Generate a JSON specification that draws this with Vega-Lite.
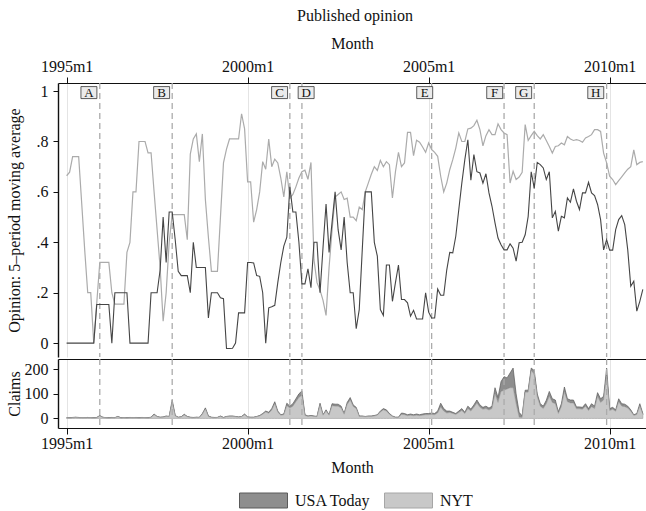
{
"$schema":"https://vega.github.io/schema/vega-lite/v6.json",
"background":"white",
"padding":{"left":6,"top":8,"right":0,"bottom":0},
"config":{"font":"Liberation Serif","view":{"stroke":null},
 "axis":{"labelFontSize":16,"titleFontSize":16,"titleFontWeight":"normal","labelColor":"#111","titleColor":"#111","domainColor":"#111","tickColor":"#111","grid":false,"labelFont":"Liberation Serif","titleFont":"Liberation Serif"},
 "legend":{"labelFont":"Liberation Serif","labelFontSize":16,"labelColor":"#111"}},
"title":{"text":"Published opinion","anchor":"middle","fontSize":16,"fontWeight":"normal","font":"Liberation Serif","color":"#111","dx":29,"offset":11},
"spacing":0,
"datasets":{
"events":[{"tm":431,"label_tm":427.4,"event":"A"},{"tm":455,"label_tm":451.5,"event":"B"},{"tm":494,"label_tm":490.6,"event":"C"},{"tm":498,"label_tm":499.4,"event":"D"},{"tm":541,"label_tm":538.7,"event":"E"},{"tm":565,"label_tm":561.9,"event":"F"},{"tm":575,"label_tm":571.5,"event":"G"},{"tm":599,"label_tm":595.4,"event":"H"}],
"series":[
{"tm":420,"usa_op":0,"nyt_op":0.664,"usa_cl":0,"nyt_cl":3},
{"tm":421,"usa_op":0,"nyt_op":0.678,"usa_cl":1,"nyt_cl":2},
{"tm":422,"usa_op":0,"nyt_op":0.74,"usa_cl":1,"nyt_cl":3},
{"tm":423,"usa_op":0,"nyt_op":0.74,"usa_cl":1,"nyt_cl":4},
{"tm":424,"usa_op":0,"nyt_op":0.74,"usa_cl":1,"nyt_cl":3},
{"tm":425,"usa_op":0,"nyt_op":0.556,"usa_cl":0,"nyt_cl":3},
{"tm":426,"usa_op":0,"nyt_op":0.37,"usa_cl":0,"nyt_cl":3},
{"tm":427,"usa_op":0,"nyt_op":0.2,"usa_cl":1,"nyt_cl":3},
{"tm":428,"usa_op":0,"nyt_op":0.2,"usa_cl":0,"nyt_cl":3},
{"tm":429,"usa_op":0,"nyt_op":0,"usa_cl":1,"nyt_cl":2},
{"tm":430,"usa_op":0.153,"nyt_op":0.16,"usa_cl":1,"nyt_cl":3},
{"tm":431,"usa_op":0.153,"nyt_op":0.32,"usa_cl":2,"nyt_cl":10},
{"tm":432,"usa_op":0.153,"nyt_op":0.32,"usa_cl":1,"nyt_cl":4},
{"tm":433,"usa_op":0.153,"nyt_op":0.32,"usa_cl":0,"nyt_cl":3},
{"tm":434,"usa_op":0.153,"nyt_op":0.32,"usa_cl":1,"nyt_cl":2},
{"tm":435,"usa_op":0,"nyt_op":0.2,"usa_cl":1,"nyt_cl":3},
{"tm":436,"usa_op":0.2,"nyt_op":0.155,"usa_cl":0,"nyt_cl":3},
{"tm":437,"usa_op":0.2,"nyt_op":0.155,"usa_cl":1,"nyt_cl":7},
{"tm":438,"usa_op":0.2,"nyt_op":0.155,"usa_cl":1,"nyt_cl":2},
{"tm":439,"usa_op":0.2,"nyt_op":0.155,"usa_cl":0,"nyt_cl":3},
{"tm":440,"usa_op":0.2,"nyt_op":0.36,"usa_cl":1,"nyt_cl":2},
{"tm":441,"usa_op":0,"nyt_op":0.4,"usa_cl":1,"nyt_cl":3},
{"tm":442,"usa_op":0,"nyt_op":0.6,"usa_cl":0,"nyt_cl":3},
{"tm":443,"usa_op":0,"nyt_op":0.6,"usa_cl":1,"nyt_cl":3},
{"tm":444,"usa_op":0,"nyt_op":0.8,"usa_cl":1,"nyt_cl":2},
{"tm":445,"usa_op":0,"nyt_op":0.8,"usa_cl":1,"nyt_cl":3},
{"tm":446,"usa_op":0,"nyt_op":0.8,"usa_cl":0,"nyt_cl":3},
{"tm":447,"usa_op":0,"nyt_op":0.755,"usa_cl":1,"nyt_cl":2},
{"tm":448,"usa_op":0.2,"nyt_op":0.755,"usa_cl":1,"nyt_cl":4},
{"tm":449,"usa_op":0.2,"nyt_op":0.6,"usa_cl":3,"nyt_cl":15},
{"tm":450,"usa_op":0.2,"nyt_op":0.45,"usa_cl":1,"nyt_cl":7},
{"tm":451,"usa_op":0.29,"nyt_op":0.3,"usa_cl":1,"nyt_cl":4},
{"tm":452,"usa_op":0.5,"nyt_op":0.087,"usa_cl":1,"nyt_cl":5},
{"tm":453,"usa_op":0.32,"nyt_op":0.2,"usa_cl":2,"nyt_cl":8},
{"tm":454,"usa_op":0.52,"nyt_op":0.4,"usa_cl":1,"nyt_cl":7},
{"tm":455,"usa_op":0.52,"nyt_op":0.51,"usa_cl":10,"nyt_cl":65},
{"tm":456,"usa_op":0.41,"nyt_op":0.51,"usa_cl":2,"nyt_cl":10},
{"tm":457,"usa_op":0.285,"nyt_op":0.51,"usa_cl":1,"nyt_cl":4},
{"tm":458,"usa_op":0.268,"nyt_op":0.51,"usa_cl":1,"nyt_cl":6},
{"tm":459,"usa_op":0.268,"nyt_op":0.51,"usa_cl":3,"nyt_cl":14},
{"tm":460,"usa_op":0.268,"nyt_op":0.41,"usa_cl":1,"nyt_cl":7},
{"tm":461,"usa_op":0.2,"nyt_op":0.75,"usa_cl":1,"nyt_cl":4},
{"tm":462,"usa_op":0.4,"nyt_op":0.81,"usa_cl":1,"nyt_cl":3},
{"tm":463,"usa_op":0.3,"nyt_op":0.83,"usa_cl":1,"nyt_cl":4},
{"tm":464,"usa_op":0.3,"nyt_op":0.72,"usa_cl":0,"nyt_cl":4},
{"tm":465,"usa_op":0.3,"nyt_op":0.83,"usa_cl":3,"nyt_cl":17},
{"tm":466,"usa_op":0.3,"nyt_op":0.57,"usa_cl":5,"nyt_cl":38},
{"tm":467,"usa_op":0.1,"nyt_op":0.42,"usa_cl":2,"nyt_cl":8},
{"tm":468,"usa_op":0.2,"nyt_op":0.285,"usa_cl":1,"nyt_cl":4},
{"tm":469,"usa_op":0.2,"nyt_op":0.285,"usa_cl":1,"nyt_cl":3},
{"tm":470,"usa_op":0.2,"nyt_op":0.285,"usa_cl":0,"nyt_cl":4},
{"tm":471,"usa_op":0.18,"nyt_op":0.5,"usa_cl":2,"nyt_cl":8},
{"tm":472,"usa_op":0.176,"nyt_op":0.715,"usa_cl":1,"nyt_cl":3},
{"tm":473,"usa_op":-0.021,"nyt_op":0.77,"usa_cl":1,"nyt_cl":7},
{"tm":474,"usa_op":-0.021,"nyt_op":0.81,"usa_cl":2,"nyt_cl":8},
{"tm":475,"usa_op":-0.02,"nyt_op":0.81,"usa_cl":2,"nyt_cl":8},
{"tm":476,"usa_op":0,"nyt_op":0.81,"usa_cl":1,"nyt_cl":7},
{"tm":477,"usa_op":0.12,"nyt_op":0.81,"usa_cl":1,"nyt_cl":5},
{"tm":478,"usa_op":0.12,"nyt_op":0.91,"usa_cl":1,"nyt_cl":7},
{"tm":479,"usa_op":0.12,"nyt_op":0.85,"usa_cl":3,"nyt_cl":15},
{"tm":480,"usa_op":0.32,"nyt_op":0.64,"usa_cl":1,"nyt_cl":5},
{"tm":481,"usa_op":0.32,"nyt_op":0.64,"usa_cl":1,"nyt_cl":4},
{"tm":482,"usa_op":0.318,"nyt_op":0.48,"usa_cl":1,"nyt_cl":4},
{"tm":483,"usa_op":0.268,"nyt_op":0.53,"usa_cl":1,"nyt_cl":7},
{"tm":484,"usa_op":0.265,"nyt_op":0.6,"usa_cl":2,"nyt_cl":10},
{"tm":485,"usa_op":0.2,"nyt_op":0.72,"usa_cl":3,"nyt_cl":17},
{"tm":486,"usa_op":0,"nyt_op":0.69,"usa_cl":4,"nyt_cl":26},
{"tm":487,"usa_op":0.14,"nyt_op":0.81,"usa_cl":4,"nyt_cl":21},
{"tm":488,"usa_op":0.144,"nyt_op":0.7,"usa_cl":6,"nyt_cl":34},
{"tm":489,"usa_op":0.15,"nyt_op":0.73,"usa_cl":8,"nyt_cl":60},
{"tm":490,"usa_op":0.24,"nyt_op":0.715,"usa_cl":5,"nyt_cl":25},
{"tm":491,"usa_op":0.32,"nyt_op":0.655,"usa_cl":2,"nyt_cl":13},
{"tm":492,"usa_op":0.385,"nyt_op":0.58,"usa_cl":3,"nyt_cl":15},
{"tm":493,"usa_op":0.42,"nyt_op":0.68,"usa_cl":10,"nyt_cl":52},
{"tm":494,"usa_op":0.62,"nyt_op":0.576,"usa_cl":8,"nyt_cl":42},
{"tm":495,"usa_op":0.52,"nyt_op":0.59,"usa_cl":10,"nyt_cl":50},
{"tm":496,"usa_op":0.52,"nyt_op":0.62,"usa_cl":12,"nyt_cl":68},
{"tm":497,"usa_op":0.4,"nyt_op":0.655,"usa_cl":15,"nyt_cl":85},
{"tm":498,"usa_op":0.235,"nyt_op":0.68,"usa_cl":18,"nyt_cl":94},
{"tm":499,"usa_op":0.235,"nyt_op":0.686,"usa_cl":3,"nyt_cl":12},
{"tm":500,"usa_op":0.295,"nyt_op":0.65,"usa_cl":2,"nyt_cl":8},
{"tm":501,"usa_op":0.22,"nyt_op":0.717,"usa_cl":2,"nyt_cl":10},
{"tm":502,"usa_op":0.4,"nyt_op":0.33,"usa_cl":2,"nyt_cl":8},
{"tm":503,"usa_op":0.4,"nyt_op":0.24,"usa_cl":1,"nyt_cl":7},
{"tm":504,"usa_op":0.2,"nyt_op":0.21,"usa_cl":8,"nyt_cl":54},
{"tm":505,"usa_op":0.38,"nyt_op":0.17,"usa_cl":2,"nyt_cl":13},
{"tm":506,"usa_op":0.552,"nyt_op":0.11,"usa_cl":5,"nyt_cl":30},
{"tm":507,"usa_op":0.36,"nyt_op":0.3,"usa_cl":2,"nyt_cl":13},
{"tm":508,"usa_op":0.48,"nyt_op":0.45,"usa_cl":8,"nyt_cl":52},
{"tm":509,"usa_op":0.6,"nyt_op":0.58,"usa_cl":8,"nyt_cl":50},
{"tm":510,"usa_op":0.45,"nyt_op":0.59,"usa_cl":8,"nyt_cl":50},
{"tm":511,"usa_op":0.37,"nyt_op":0.6,"usa_cl":8,"nyt_cl":42},
{"tm":512,"usa_op":0.5,"nyt_op":0.57,"usa_cl":3,"nyt_cl":17},
{"tm":513,"usa_op":0.32,"nyt_op":0.575,"usa_cl":8,"nyt_cl":57},
{"tm":514,"usa_op":0.2,"nyt_op":0.5,"usa_cl":10,"nyt_cl":75},
{"tm":515,"usa_op":0.2,"nyt_op":0.5,"usa_cl":6,"nyt_cl":49},
{"tm":516,"usa_op":0.057,"nyt_op":0.486,"usa_cl":5,"nyt_cl":40},
{"tm":517,"usa_op":0.133,"nyt_op":0.54,"usa_cl":2,"nyt_cl":8},
{"tm":518,"usa_op":0.37,"nyt_op":0.53,"usa_cl":2,"nyt_cl":8},
{"tm":519,"usa_op":0.6,"nyt_op":0.6,"usa_cl":1,"nyt_cl":7},
{"tm":520,"usa_op":0.6,"nyt_op":0.635,"usa_cl":2,"nyt_cl":8},
{"tm":521,"usa_op":0.6,"nyt_op":0.67,"usa_cl":2,"nyt_cl":8},
{"tm":522,"usa_op":0.4,"nyt_op":0.7,"usa_cl":2,"nyt_cl":10},
{"tm":523,"usa_op":0.345,"nyt_op":0.685,"usa_cl":2,"nyt_cl":13},
{"tm":524,"usa_op":0.133,"nyt_op":0.725,"usa_cl":4,"nyt_cl":26},
{"tm":525,"usa_op":0.11,"nyt_op":0.7,"usa_cl":5,"nyt_cl":35},
{"tm":526,"usa_op":0.31,"nyt_op":0.72,"usa_cl":5,"nyt_cl":30},
{"tm":527,"usa_op":0.31,"nyt_op":0.708,"usa_cl":3,"nyt_cl":17},
{"tm":528,"usa_op":0.166,"nyt_op":0.576,"usa_cl":2,"nyt_cl":8},
{"tm":529,"usa_op":0.24,"nyt_op":0.68,"usa_cl":1,"nyt_cl":4},
{"tm":530,"usa_op":0.31,"nyt_op":0.757,"usa_cl":1,"nyt_cl":4},
{"tm":531,"usa_op":0.173,"nyt_op":0.7,"usa_cl":6,"nyt_cl":16},
{"tm":532,"usa_op":0.173,"nyt_op":0.715,"usa_cl":5,"nyt_cl":15},
{"tm":533,"usa_op":0.16,"nyt_op":0.836,"usa_cl":4,"nyt_cl":11},
{"tm":534,"usa_op":0.107,"nyt_op":0.836,"usa_cl":5,"nyt_cl":13},
{"tm":535,"usa_op":0.13,"nyt_op":0.744,"usa_cl":4,"nyt_cl":11},
{"tm":536,"usa_op":0.096,"nyt_op":0.805,"usa_cl":5,"nyt_cl":13},
{"tm":537,"usa_op":0.096,"nyt_op":0.797,"usa_cl":4,"nyt_cl":11},
{"tm":538,"usa_op":0.096,"nyt_op":0.778,"usa_cl":5,"nyt_cl":13},
{"tm":539,"usa_op":0.2,"nyt_op":0.757,"usa_cl":5,"nyt_cl":15},
{"tm":540,"usa_op":0.123,"nyt_op":0.794,"usa_cl":5,"nyt_cl":15},
{"tm":541,"usa_op":0.1,"nyt_op":0.768,"usa_cl":6,"nyt_cl":16},
{"tm":542,"usa_op":0.1,"nyt_op":0.757,"usa_cl":5,"nyt_cl":15},
{"tm":543,"usa_op":0.215,"nyt_op":0.741,"usa_cl":8,"nyt_cl":22},
{"tm":544,"usa_op":0.19,"nyt_op":0.662,"usa_cl":15,"nyt_cl":47},
{"tm":545,"usa_op":0.19,"nyt_op":0.6,"usa_cl":10,"nyt_cl":30},
{"tm":546,"usa_op":0.29,"nyt_op":0.635,"usa_cl":8,"nyt_cl":22},
{"tm":547,"usa_op":0.36,"nyt_op":0.688,"usa_cl":6,"nyt_cl":24},
{"tm":548,"usa_op":0.358,"nyt_op":0.728,"usa_cl":5,"nyt_cl":20},
{"tm":549,"usa_op":0.424,"nyt_op":0.774,"usa_cl":4,"nyt_cl":16},
{"tm":550,"usa_op":0.53,"nyt_op":0.834,"usa_cl":6,"nyt_cl":24},
{"tm":551,"usa_op":0.635,"nyt_op":0.8,"usa_cl":8,"nyt_cl":32},
{"tm":552,"usa_op":0.728,"nyt_op":0.8,"usa_cl":5,"nyt_cl":20},
{"tm":553,"usa_op":0.807,"nyt_op":0.85,"usa_cl":10,"nyt_cl":40},
{"tm":554,"usa_op":0.646,"nyt_op":0.853,"usa_cl":8,"nyt_cl":30},
{"tm":555,"usa_op":0.748,"nyt_op":0.863,"usa_cl":10,"nyt_cl":45},
{"tm":556,"usa_op":0.68,"nyt_op":0.884,"usa_cl":12,"nyt_cl":63},
{"tm":557,"usa_op":0.675,"nyt_op":0.847,"usa_cl":10,"nyt_cl":45},
{"tm":558,"usa_op":0.635,"nyt_op":0.783,"usa_cl":8,"nyt_cl":37},
{"tm":559,"usa_op":0.672,"nyt_op":0.823,"usa_cl":10,"nyt_cl":40},
{"tm":560,"usa_op":0.596,"nyt_op":0.847,"usa_cl":8,"nyt_cl":34},
{"tm":561,"usa_op":0.543,"nyt_op":0.827,"usa_cl":10,"nyt_cl":40},
{"tm":562,"usa_op":0.477,"nyt_op":0.827,"usa_cl":25,"nyt_cl":100},
{"tm":563,"usa_op":0.417,"nyt_op":0.87,"usa_cl":20,"nyt_cl":65},
{"tm":564,"usa_op":0.39,"nyt_op":0.847,"usa_cl":40,"nyt_cl":110},
{"tm":565,"usa_op":0.37,"nyt_op":0.834,"usa_cl":55,"nyt_cl":115},
{"tm":566,"usa_op":0.37,"nyt_op":0.827,"usa_cl":45,"nyt_cl":120},
{"tm":567,"usa_op":0.394,"nyt_op":0.635,"usa_cl":60,"nyt_cl":125},
{"tm":568,"usa_op":0.377,"nyt_op":0.682,"usa_cl":80,"nyt_cl":125},
{"tm":569,"usa_op":0.325,"nyt_op":0.649,"usa_cl":40,"nyt_cl":60},
{"tm":570,"usa_op":0.398,"nyt_op":0.659,"usa_cl":20,"nyt_cl":5},
{"tm":571,"usa_op":0.4,"nyt_op":0.678,"usa_cl":6,"nyt_cl":4},
{"tm":572,"usa_op":0.43,"nyt_op":0.867,"usa_cl":8,"nyt_cl":107},
{"tm":573,"usa_op":0.503,"nyt_op":0.804,"usa_cl":8,"nyt_cl":107},
{"tm":574,"usa_op":0.68,"nyt_op":0.823,"usa_cl":10,"nyt_cl":195},
{"tm":575,"usa_op":0.615,"nyt_op":0.84,"usa_cl":15,"nyt_cl":180},
{"tm":576,"usa_op":0.717,"nyt_op":0.823,"usa_cl":12,"nyt_cl":88},
{"tm":577,"usa_op":0.708,"nyt_op":0.81,"usa_cl":10,"nyt_cl":50},
{"tm":578,"usa_op":0.695,"nyt_op":0.827,"usa_cl":10,"nyt_cl":40},
{"tm":579,"usa_op":0.649,"nyt_op":0.804,"usa_cl":14,"nyt_cl":60},
{"tm":580,"usa_op":0.68,"nyt_op":0.78,"usa_cl":20,"nyt_cl":90},
{"tm":581,"usa_op":0.497,"nyt_op":0.754,"usa_cl":15,"nyt_cl":65},
{"tm":582,"usa_op":0.523,"nyt_op":0.78,"usa_cl":15,"nyt_cl":60},
{"tm":583,"usa_op":0.444,"nyt_op":0.783,"usa_cl":7,"nyt_cl":20},
{"tm":584,"usa_op":0.503,"nyt_op":0.794,"usa_cl":12,"nyt_cl":48},
{"tm":585,"usa_op":0.497,"nyt_op":0.787,"usa_cl":20,"nyt_cl":108},
{"tm":586,"usa_op":0.576,"nyt_op":0.82,"usa_cl":12,"nyt_cl":68},
{"tm":587,"usa_op":0.559,"nyt_op":0.81,"usa_cl":12,"nyt_cl":63},
{"tm":588,"usa_op":0.612,"nyt_op":0.804,"usa_cl":12,"nyt_cl":63},
{"tm":589,"usa_op":0.563,"nyt_op":0.807,"usa_cl":8,"nyt_cl":39},
{"tm":590,"usa_op":0.53,"nyt_op":0.804,"usa_cl":8,"nyt_cl":39},
{"tm":591,"usa_op":0.596,"nyt_op":0.797,"usa_cl":8,"nyt_cl":37},
{"tm":592,"usa_op":0.596,"nyt_op":0.814,"usa_cl":10,"nyt_cl":50},
{"tm":593,"usa_op":0.638,"nyt_op":0.82,"usa_cl":8,"nyt_cl":32},
{"tm":594,"usa_op":0.596,"nyt_op":0.827,"usa_cl":12,"nyt_cl":48},
{"tm":595,"usa_op":0.585,"nyt_op":0.847,"usa_cl":10,"nyt_cl":40},
{"tm":596,"usa_op":0.55,"nyt_op":0.847,"usa_cl":15,"nyt_cl":90},
{"tm":597,"usa_op":0.49,"nyt_op":0.84,"usa_cl":15,"nyt_cl":65},
{"tm":598,"usa_op":0.37,"nyt_op":0.754,"usa_cl":15,"nyt_cl":75},
{"tm":599,"usa_op":0.41,"nyt_op":0.715,"usa_cl":30,"nyt_cl":175},
{"tm":600,"usa_op":0.369,"nyt_op":0.662,"usa_cl":8,"nyt_cl":32},
{"tm":601,"usa_op":0.369,"nyt_op":0.649,"usa_cl":8,"nyt_cl":37},
{"tm":602,"usa_op":0.45,"nyt_op":0.629,"usa_cl":6,"nyt_cl":29},
{"tm":603,"usa_op":0.49,"nyt_op":0.645,"usa_cl":12,"nyt_cl":68},
{"tm":604,"usa_op":0.506,"nyt_op":0.66,"usa_cl":10,"nyt_cl":50},
{"tm":605,"usa_op":0.47,"nyt_op":0.675,"usa_cl":10,"nyt_cl":48},
{"tm":606,"usa_op":0.37,"nyt_op":0.69,"usa_cl":8,"nyt_cl":42},
{"tm":607,"usa_op":0.226,"nyt_op":0.7,"usa_cl":6,"nyt_cl":29},
{"tm":608,"usa_op":0.246,"nyt_op":0.767,"usa_cl":3,"nyt_cl":12},
{"tm":609,"usa_op":0.127,"nyt_op":0.708,"usa_cl":4,"nyt_cl":16},
{"tm":610,"usa_op":0.166,"nyt_op":0.717,"usa_cl":10,"nyt_cl":50},
{"tm":611,"usa_op":0.213,"nyt_op":0.72,"usa_cl":4,"nyt_cl":16}
]},
"vconcat":[
{"width":588,"height":274,
 "layer":[
  {"data":{"name":"events"},
   "mark":{"type":"rule","color":"#ababab","strokeDash":[6,4],"strokeWidth":1.3},
   "encoding":{"x":{"field":"tm","type":"quantitative","scale":{"domain":[417.15,612.05],"nice":false,"zero":false},
     "axis":{"orient":"top","values":[420,480,540,600],"labelExpr":"(floor(datum.value/12)+1960) + 'm' + (datum.value % 12 + 1)","title":"Month","tickSize":6,"labelPadding":3,"titlePadding":7,"grid":true,"gridColor":"#e4e4e4","gridWidth":1,"domainWidth":1.2}}}},
  {"data":{"name":"series"},
   "mark":{"type":"line","color":"#ababab","strokeWidth":1.2},
   "encoding":{"x":{"field":"tm","type":"quantitative"},
    "y":{"field":"nyt_op","type":"quantitative","scale":{"domain":[-0.055,1.032],"nice":false,"zero":false},
     "axis":{"values":[0,0.2,0.4,0.6,0.8,1],"labelExpr":"datum.value == 0 ? '0' : datum.value == 1 ? '1' : replace(format(datum.value, '.1f'), '0.', '.')","title":"Opinion: 5–period moving average","titleX":-44,"titleBaseline":"middle","tickSize":5,"labelPadding":5,"domainWidth":1.4}}}},
  {"data":{"name":"series"},
   "mark":{"type":"line","color":"#454545","strokeWidth":1.1},
   "encoding":{"x":{"field":"tm","type":"quantitative"},"y":{"field":"usa_op","type":"quantitative"}}},
  {"data":{"name":"events"},
   "mark":{"type":"point","shape":"M-1.33,-1H1.33V1H-1.33Z","size":144,"filled":true,"fill":"#ebebeb","stroke":"#333","strokeWidth":0.8,"opacity":1},
   "encoding":{"x":{"field":"label_tm","type":"quantitative"},"y":{"datum":0.994,"type":"quantitative"}}},
  {"data":{"name":"events"},
   "mark":{"type":"text","fontSize":13,"color":"#111","baseline":"middle","align":"center","yOffset":0.5},
   "encoding":{"x":{"field":"label_tm","type":"quantitative"},"y":{"datum":0.994,"type":"quantitative"},"text":{"field":"event"}}}
 ]},
{"width":588,"height":69,
 "layer":[
  {"data":{"name":"series"},
   "transform":[{"fold":["usa_cl","nyt_cl"],"as":["paper","claims"]}],
   "mark":{"type":"area","strokeWidth":0.7,"opacity":1},
   "encoding":{
    "x":{"field":"tm","type":"quantitative","scale":{"domain":[417.15,612.05],"nice":false,"zero":false},
     "axis":{"orient":"bottom","values":[420,480,540,600],"labelExpr":"(floor(datum.value/12)+1960) + 'm' + (datum.value % 12 + 1)","title":"Month","tickSize":6,"labelPadding":1,"titlePadding":8,"grid":true,"gridColor":"#e4e4e4","gridWidth":1,"domainWidth":1.2}},
    "y":{"field":"claims","type":"quantitative","stack":"zero","scale":{"domain":[-39,242],"nice":false,"zero":false},
     "axis":{"values":[0,100,200],"title":"Claims","titleX":-44,"titleBaseline":"middle","tickSize":5,"labelPadding":5,"domainWidth":1.4}},
    "fill":{"field":"paper","type":"nominal","scale":{"domain":["usa_cl","nyt_cl"],"range":["#8e8e8e","#c8c8c8"]},
     "legend":{"title":null,"orient":"none","legendX":190,"legendY":402,"direction":"horizontal","labelExpr":"datum.label == 'usa_cl' ? 'USA Today' : 'NYT'","symbolType":"M-1.6,-0.5H1.6V0.5H-1.6Z","symbolSize":900,"symbolStrokeWidth":1,"symbolStrokeColor":"#777","labelOffset":16,"columnPadding":11}},
    "stroke":{"field":"paper","type":"nominal","scale":{"domain":["usa_cl","nyt_cl"],"range":["#5a5a5a","#a6a6a6"]},"legend":null},
    "order":{"field":"paper","sort":"ascending"}}},
  {"data":{"name":"events"},
   "mark":{"type":"rule","color":"#ababab","strokeDash":[6,4],"strokeWidth":1.3},
   "encoding":{"x":{"field":"tm","type":"quantitative","axis":{"orient":"top","labels":false,"ticks":false,"title":null,"grid":false,"domainWidth":1.2}}}}
 ],
 "resolve":{"axis":{"x":"independent"}}}
]}
